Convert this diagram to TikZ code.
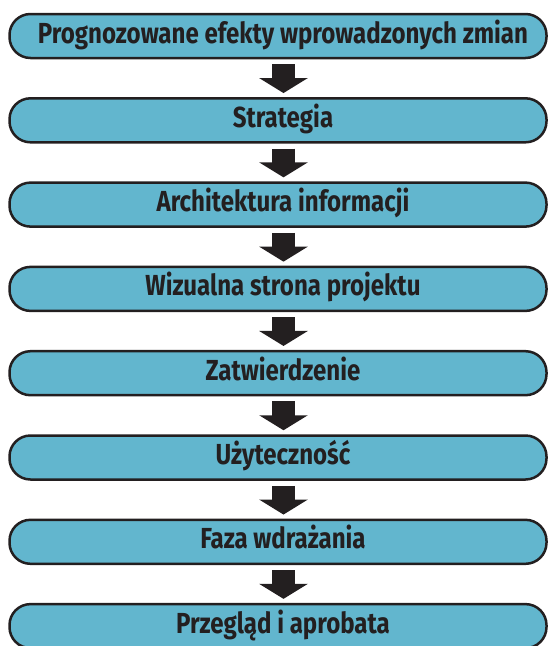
\documentclass[tikz,border=0pt]{standalone}
\usepackage{fontspec}
\newfontfamily\stepfont{Fira Sans}[FakeStretch=0.83]
\usetikzlibrary{arrows.meta}
\definecolor{boxblue}{RGB}{98,182,206}
\definecolor{inkdark}{RGB}{35,31,32}
\tikzset{
  phase/.style={draw=inkdark, line width=2.5pt, fill=boxblue, rounded corners=21pt,
    minimum width=537pt, minimum height=44pt, inner sep=0pt, text=inkdark,
    font=\stepfont\bfseries\fontsize{29}{30}\selectfont, text height=20pt, text depth=6pt},
  flow/.style={draw=inkdark, line width=23pt, -{Triangle[width=48pt,length=15pt]},
    shorten <=5pt, shorten >=4pt}
}
\begin{document}
\begin{tikzpicture}[x=1pt,y=-1pt]
\useasboundingbox (0,0) rectangle (548,646);

% the eight phases, top to bottom
\foreach \n/\y/\t in {1/36/Prognozowane efekty wprowadzonych zmian,
                      2/120.3/Strategia,
                      3/204.6/Architektura informacji,
                      4/288.9/Wizualna strona projektu,
                      5/373.2/Zatwierdzenie,
                      6/457.5/Użyteczność,
                      7/541.8/Faza wdrażania,
                      8/626.1/Przegląd i aprobata}
    \node[phase] (p\n) at (278,\y) {\hspace*{10pt}\t};

% block arrows between them
\foreach \a/\b in {1/2,2/3,3/4,4/5,5/6,6/7,7/8}
    \draw[flow] ([xshift=5.5pt]p\a.south) -- ([xshift=5.5pt]p\b.north);

\end{tikzpicture}
\end{document}
